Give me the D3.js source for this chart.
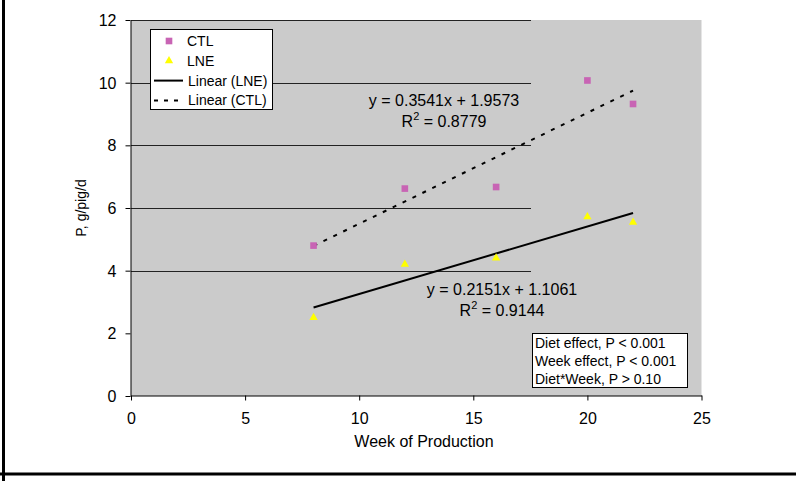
<!DOCTYPE html>
<html>
<head>
<meta charset="utf-8">
<script src="https://cdn.jsdelivr.net/npm/d3@7"></script>
<style>
body{margin:0;background:#fff;}
svg text{font-family:"Liberation Sans",Arial,sans-serif;fill:#000;}
</style>
</head>
<body>
<div id="chart"></div>
<script>
// data
var weeks=[8,12,16,20,22];
var ctlValues=[4.8,6.62,6.67,10.07,9.32];
var lneValues=[2.5,4.2,4.4,5.72,5.54];
// trend lines: [slope, intercept], drawn over the week range
var ctlFit=[0.3541,1.9573];
var lneFit=[0.2151,1.1061];
var xTicks=[0,5,10,15,20,25];
var yTicks=[0,2,4,6,8,10,12];
var gridValues=[4,6,8,10,12];
var statsLines=["Diet effect, P < 0.001","Week effect, P < 0.001","Diet*Week, P > 0.10"];

var W=796,H=481;
var plotL=131,plotR=701.5,plotT=20,plotB=396;
var gridEnd=531;
var ctlColor="#c864b4",lneColor="#ffff00";

var svg=d3.select("#chart").append("svg")
    .attr("width",W)
    .attr("height",H);

// outer frame (left edge and bottom edge)
svg.append("line").attr("x1",3.5).attr("y1",0).attr("x2",3.5).attr("y2",H)
    .attr("stroke","#000").attr("stroke-width",3);
svg.append("line").attr("x1",0).attr("y1",474).attr("x2",W).attr("y2",474)
    .attr("stroke","#000").attr("stroke-width",3);

var x=d3.scaleLinear().domain([0,25]).range([plotL,plotR]);
var y=d3.scaleLinear().domain([0,12]).range([plotB,plotT]);

// plot area
svg.append("rect")
    .attr("x",plotL).attr("y",plotT)
    .attr("width",plotR-plotL).attr("height",plotB-plotT)
    .attr("fill","#cbcbcb");

// gridlines (they stop short of the right edge in the original)
svg.append("g").selectAll("line")
    .data(gridValues)
    .enter().append("line")
    .attr("x1",plotL).attr("x2",gridEnd)
    .attr("y1",function(d){return Math.round(y(d))+0.5;})
    .attr("y2",function(d){return Math.round(y(d))+0.5;})
    .attr("stroke","#222").attr("stroke-width",1);

// axes
var yAxis=svg.append("g")
    .attr("transform","translate("+(plotL-0.5)+",0)")
    .call(d3.axisLeft(y).tickValues(yTicks).tickSize(5).tickPadding(9).tickSizeOuter(0));
var xAxis=svg.append("g")
    .attr("transform","translate(0,"+(plotB-0.5)+")")
    .call(d3.axisBottom(x).tickValues(xTicks).tickSize(5).tickPadding(12).tickSizeOuter(0));
[yAxis,xAxis].forEach(function(a){
    a.select(".domain").attr("stroke","#000");
    a.selectAll(".tick line").attr("stroke","#000");
    a.selectAll(".tick text")
        .style("font-family","Liberation Sans, Arial, sans-serif")
        .style("font-size","16px")
        .attr("fill","#000");
});
yAxis.selectAll(".tick text").attr("dy","0.35em");

// axis titles
svg.append("text")
    .attr("x",424).attr("y",447)
    .attr("text-anchor","middle")
    .style("font-size","16px")
    .text("Week of Production");
svg.append("text")
    .attr("transform","translate(86,"+((plotT+plotB)/2)+") rotate(-90)")
    .attr("text-anchor","middle")
    .style("font-size","14px")
    .text("P, g/pig/d");

// trend lines
function fitPoints(fit){
    var x0=d3.min(weeks),x1=d3.max(weeks);
    return [[x0,fit[0]*x0+fit[1]],[x1,fit[0]*x1+fit[1]]];
}
var line=d3.line().x(function(d){return x(d[0]);}).y(function(d){return y(d[1]);});
svg.append("path")
    .attr("d",line(fitPoints(lneFit)))
    .attr("fill","none").attr("stroke","#000").attr("stroke-width",2);
svg.append("path")
    .attr("d",line(fitPoints(ctlFit)))
    .attr("fill","none").attr("stroke","#000").attr("stroke-width",2)
    .attr("stroke-dasharray","4,7");

// markers
var sq=d3.symbol().type(d3.symbolSquare).size(44);
var tri=d3.symbol().type(d3.symbolTriangle).size(30);
svg.append("g").selectAll("path")
    .data(weeks)
    .enter().append("path")
    .attr("d",sq)
    .attr("transform",function(d,i){return "translate("+x(d)+","+y(ctlValues[i])+")";})
    .attr("fill",ctlColor);
svg.append("g").selectAll("path")
    .data(weeks)
    .enter().append("path")
    .attr("d",tri)
    .attr("transform",function(d,i){return "translate("+x(d)+","+y(lneValues[i])+")";})
    .attr("fill",lneColor);

// equation labels
function eqLabel(cx,by,eq,r2){
    svg.append("text").attr("x",cx).attr("y",by)
        .attr("text-anchor","middle").style("font-size","16px").text(eq);
    var t=svg.append("text").attr("x",cx).attr("y",by+21)
        .attr("text-anchor","middle").style("font-size","16px");
    t.append("tspan").text("R");
    t.append("tspan").attr("dy",-7).style("font-size","11px").text("2");
    t.append("tspan").attr("dy",7).text(" = "+r2);
}
eqLabel(444,106,"y = 0.3541x + 1.9573","0.8779");
eqLabel(502,295,"y = 0.2151x + 1.1061","0.9144");

// legend
var lg=svg.append("g");
lg.append("rect").attr("x",150.5).attr("y",29.5).attr("width",122).attr("height",80)
    .attr("fill","#fff").attr("stroke","#000").attr("stroke-width",1);
var legendItems=["CTL","LNE","Linear (LNE)","Linear (CTL)"];
legendItems.forEach(function(name,i){
    var ly=41+i*19.8;
    if(i==0) lg.append("path").attr("d",sq).attr("transform","translate(169,"+ly+")").attr("fill",ctlColor);
    if(i==1) lg.append("path").attr("d",tri).attr("transform","translate(169,"+ly+")").attr("fill",lneColor);
    if(i>=2) lg.append("line").attr("x1",154).attr("x2",183).attr("y1",ly).attr("y2",ly)
        .attr("stroke","#000").attr("stroke-width",2)
        .attr("stroke-dasharray",i==3?"4,6":null);
    lg.append("text").attr("x",i<2?187:188).attr("y",ly+5)
        .style("font-size","14px").text(name);
});

// statistics box
svg.append("rect").attr("x",532.5).attr("y",333.5).attr("width",155).attr("height",54)
    .attr("fill","#fff").attr("stroke","#000").attr("stroke-width",1);
svg.append("g").selectAll("text")
    .data(statsLines)
    .enter().append("text")
    .attr("x",535)
    .attr("y",function(d,i){return 348+i*18;})
    .style("font-size","14px")
    .text(function(d){return d;});
</script>
</body>
</html>
